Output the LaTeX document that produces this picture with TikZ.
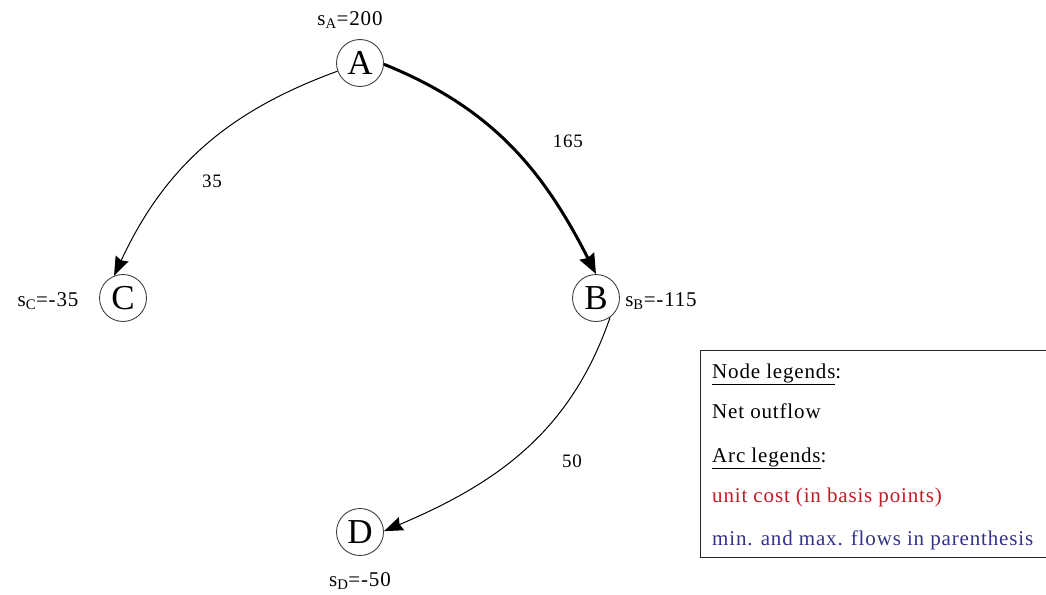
\documentclass[tikz,border=0pt]{standalone}
\usepackage{fontspec}
\setmainfont{Liberation Serif}
\usetikzlibrary{arrows.meta}
\definecolor{legred}{RGB}{190,28,36}
\definecolor{legblue}{RGB}{50,50,140}
\newcommand{\spaced}{\addfontfeatures{LetterSpace=4}}
\begin{document}
\begin{tikzpicture}[x=1pt,y=1pt,
  vertex/.style={circle,draw=black!75,line width=0.9pt,minimum size=47pt,inner sep=0pt,font=\fontsize{35}{38}\selectfont},
  supply/.style={inner sep=0pt,font=\fontsize{21}{24}\selectfont\spaced},
  flowlbl/.style={inner sep=0pt,font=\fontsize{19}{22}\selectfont\spaced},
  thinarc/.style={line width=1pt,draw=black,-{Stealth[length=19pt,width=14pt,inset=2pt]}},
  thickarc/.style={line width=3pt,-{Stealth[length=20pt,width=16pt,inset=2pt]}},
  legtext/.style={anchor=base west,inner sep=0pt,font=\fontsize{21}{24}\selectfont\spaced},
  legbox/.style={draw=black!85,line width=0.9pt,inner sep=0pt}
]
\useasboundingbox (0,0) rectangle (1046,-594);
\node[vertex] (A) at (360,-63) {A};
\node[vertex] (B) at (596,-298) {B};
\node[vertex] (C) at (123,-298) {C};
\node[vertex] (D) at (360,-532) {D};
\node[supply] (sA) at (350,-20) {s\textsubscript{A}=200};
\node[supply] (sB) at (661,-301) {s\textsubscript{B}=-115};
\node[supply] (sC) at (48,-301) {s\textsubscript{C}=-35};
\node[supply] (sD) at (360,-581) {s\textsubscript{D}=-50};
\draw[thinarc] (A.200) to[out=200,in=65] (C.112);
\draw[thickarc] (A.-3) to[out=-22,in=117] (B.90);
\draw[thinarc] (B.-54) to[out=251,in=23] (D.2);
\node[flowlbl] (l35) at (212,-181) {35};
\node[flowlbl] (l165) at (568,-141) {165};
\node[flowlbl] (l50) at (572,-461) {50};
\node[legbox,minimum width=346pt,minimum height=207pt,anchor=north west] (leg) at (700,-350) {};
\node[legtext] (t1) at (712,-378) {\underline{Node legends}:};
\node[legtext] (t2) at (712,-418) {Net outflow};
\node[legtext] (t3) at (712,-462) {\underline{Arc legends}:};
\node[legtext,text=legred] (t4) at (712,-502) {unit cost (in basis points)};
\node[legtext,text=legblue] (t5) at (712,-545) {min. and max. flows in parenthesis};
\end{tikzpicture}
\end{document}
